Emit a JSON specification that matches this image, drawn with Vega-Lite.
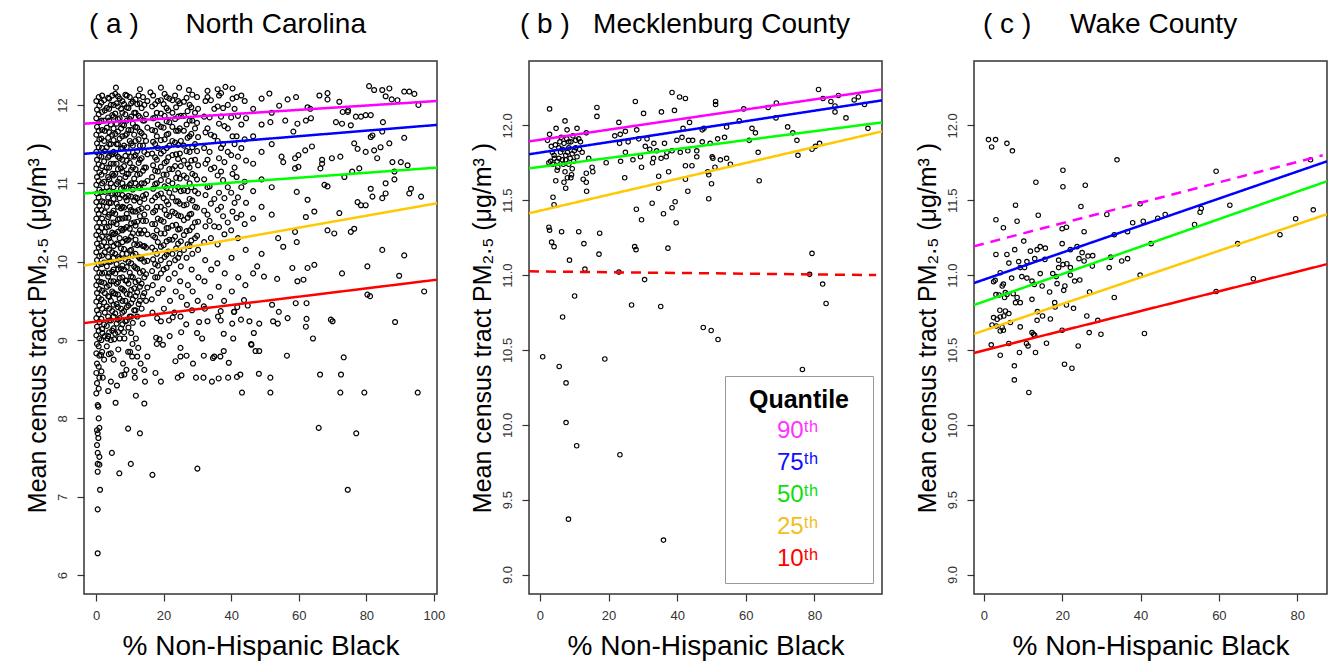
{
"$schema":"https://vega.github.io/schema/vega-lite/v6.json",
"background":"white",
"padding":{"left":24,"top":10,"right":2,"bottom":0},
"config":{
 "font":"Liberation Sans",
 "view":{"stroke":"#333","strokeWidth":1.5},
 "title":{"fontSize":28,"fontWeight":"normal","anchor":"start","frame":"group","offset":22,"color":"black","font":"Liberation Sans"},
 "axis":{"grid":false,"domain":false,"tickSize":7,"tickColor":"#333","tickWidth":1.2,"labelFontSize":13,"labelColor":"#333","labelFlush":false,"labelOverlap":false,"labelBound":false,"titleFontWeight":"normal","titleColor":"black","titleFont":"Liberation Sans","labelFont":"Liberation Sans"},
 "axisX":{"labelPadding":8,"titleFontSize":28,"titlePadding":10},
 "axisY":{"labelAngle":-90,"labelAlign":"center","labelBaseline":"bottom","labelPadding":8,"titleFontSize":25,"titlePadding":6}
},
"datasets":{
"lines":[
{"panel":"a","q":"90th","sig":"yes","x":-3.55,"y":11.76},{"panel":"a","q":"90th","sig":"yes","x":100.9,"y":12.05},
{"panel":"a","q":"75th","sig":"yes","x":-3.55,"y":11.376},{"panel":"a","q":"75th","sig":"yes","x":100.9,"y":11.745},
{"panel":"a","q":"50th","sig":"yes","x":-3.55,"y":10.87},{"panel":"a","q":"50th","sig":"yes","x":100.9,"y":11.2},
{"panel":"a","q":"25th","sig":"yes","x":-3.55,"y":9.95},{"panel":"a","q":"25th","sig":"yes","x":100.9,"y":10.745},
{"panel":"a","q":"10th","sig":"yes","x":-3.55,"y":9.216},{"panel":"a","q":"10th","sig":"yes","x":100.9,"y":9.77},
{"panel":"b","q":"90th","sig":"yes","x":-3.2,"y":11.893},{"panel":"b","q":"90th","sig":"yes","x":99.7,"y":12.24},
{"panel":"b","q":"75th","sig":"yes","x":-3.2,"y":11.807},{"panel":"b","q":"75th","sig":"yes","x":99.7,"y":12.167},
{"panel":"b","q":"50th","sig":"yes","x":-3.2,"y":11.713},{"panel":"b","q":"50th","sig":"yes","x":99.7,"y":12.02},
{"panel":"b","q":"25th","sig":"yes","x":-3.2,"y":11.413},{"panel":"b","q":"25th","sig":"yes","x":99.7,"y":11.96},
{"panel":"b","q":"10th","sig":"no","x":-3.2,"y":11.025},{"panel":"b","q":"10th","sig":"no","x":98,"y":11.0},
{"panel":"c","q":"90th","sig":"no","x":-2.5,"y":11.193},{"panel":"c","q":"90th","sig":"no","x":86.5,"y":11.8},
{"panel":"c","q":"75th","sig":"yes","x":-2.5,"y":10.947},{"panel":"c","q":"75th","sig":"yes","x":87.6,"y":11.76},
{"panel":"c","q":"50th","sig":"yes","x":-2.5,"y":10.8},{"panel":"c","q":"50th","sig":"yes","x":87.6,"y":11.627},
{"panel":"c","q":"25th","sig":"yes","x":-2.5,"y":10.607},{"panel":"c","q":"25th","sig":"yes","x":87.6,"y":11.407},
{"panel":"c","q":"10th","sig":"yes","x":-2.5,"y":10.48},{"panel":"c","q":"10th","sig":"yes","x":87.6,"y":11.073}
],
"meck":[
{"x":2.8,"y":12.11},{"x":16.6,"y":12.12},{"x":16.6,"y":12.06},{"x":7.3,"y":12.03},{"x":4.7,"y":11.98},{"x":7.9,"y":11.97},{"x":10.8,"y":11.98},{"x":13.5,"y":11.95},{"x":23,"y":12.02},{"x":27.8,"y":12.16},{"x":30.2,"y":12.08},{"x":38.5,"y":12.22},{"x":40.7,"y":12.19},{"x":42.4,"y":12.18},{"x":35.4,"y":12.09},{"x":39.2,"y":12.1},{"x":28.2,"y":11.97},{"x":21.8,"y":11.93},{"x":23.4,"y":11.94},{"x":24.9,"y":11.96},{"x":23.2,"y":11.88},{"x":25.7,"y":11.89},{"x":28.8,"y":11.91},{"x":31.2,"y":11.91},{"x":33.2,"y":11.88},{"x":36.3,"y":11.88},{"x":39.9,"y":11.9},{"x":41.4,"y":11.92},{"x":43.3,"y":11.9},{"x":44.5,"y":11.9},{"x":41.7,"y":11.98},{"x":43.6,"y":12.02},{"x":30.7,"y":11.86},{"x":32,"y":11.84},{"x":34,"y":11.83},{"x":37,"y":11.82},{"x":38.5,"y":11.83},{"x":40.9,"y":11.82},{"x":43.1,"y":11.83},{"x":45.7,"y":11.83},{"x":24.9,"y":11.82},{"x":23.5,"y":11.76},{"x":19.3,"y":11.75},{"x":14.2,"y":11.78},{"x":27.1,"y":11.77},{"x":29.3,"y":11.79},{"x":33.1,"y":11.78},{"x":32.8,"y":11.75},{"x":35.3,"y":11.78},{"x":36.8,"y":11.79},{"x":29.6,"y":11.72},{"x":37.5,"y":11.69},{"x":42.4,"y":11.73},{"x":44.3,"y":11.73},{"x":45.7,"y":11.79},{"x":15.2,"y":11.72},{"x":13.5,"y":11.68},{"x":15.4,"y":11.69},{"x":12.6,"y":11.64},{"x":13.5,"y":11.62},{"x":13.6,"y":11.56},{"x":24.7,"y":11.65},{"x":34.6,"y":11.66},{"x":34.6,"y":11.58},{"x":42.4,"y":11.64},{"x":43.1,"y":11.56},{"x":28.1,"y":11.44},{"x":29.6,"y":11.37},{"x":32.7,"y":11.48},{"x":36,"y":11.41},{"x":38.5,"y":11.45},{"x":39.4,"y":11.49},{"x":39.7,"y":11.35},{"x":3.8,"y":11.52},{"x":4.1,"y":11.47},{"x":2.6,"y":11.32},{"x":2.8,"y":11.3},{"x":6.3,"y":11.29},{"x":11.3,"y":11.29},{"x":17.4,"y":11.28},{"x":3.4,"y":11.22},{"x":4.1,"y":11.19},{"x":12.8,"y":11.21},{"x":8.6,"y":11.1},{"x":17.2,"y":11.14},{"x":27.6,"y":11.19},{"x":28,"y":11.17},{"x":37.3,"y":11.18},{"x":13.1,"y":11.04},{"x":23,"y":11.02},{"x":30.5,"y":10.97},{"x":10.1,"y":10.86},
{"x":5.5,"y":11.85},{"x":6,"y":11.82},{"x":6.5,"y":11.84},{"x":7,"y":11.88},{"x":7.5,"y":11.8},{"x":8,"y":11.82},{"x":8.4,"y":11.85},{"x":9,"y":11.89},{"x":9.4,"y":11.81},{"x":10,"y":11.83},{"x":10.4,"y":11.9},{"x":11.3,"y":11.91},{"x":11.8,"y":11.89},{"x":6.5,"y":11.77},{"x":5,"y":11.76},{"x":4.1,"y":11.8},{"x":3.1,"y":11.76},{"x":3.6,"y":11.82},{"x":5.2,"y":11.72},{"x":8.4,"y":11.74},{"x":9.4,"y":11.71},{"x":7.3,"y":11.69},{"x":8,"y":11.65},{"x":7,"y":11.62},{"x":7.5,"y":11.58},{"x":9,"y":11.65},{"x":9.2,"y":11.67},{"x":5,"y":11.7},{"x":4.6,"y":11.63},{"x":10.4,"y":11.85},{"x":5.8,"y":11.89},{"x":8.4,"y":11.89},{"x":7.5,"y":11.77},{"x":2.6,"y":11.75},{"x":2.8,"y":11.94},{"x":2.2,"y":11.9},{"x":4.2,"y":11.78},{"x":3.7,"y":11.74},
{"x":4.5,"y":11.87},{"x":5.5,"y":11.78},{"x":6.8,"y":11.74},{"x":8.8,"y":11.78},{"x":9.8,"y":11.76},{"x":10.8,"y":11.79},{"x":11.5,"y":11.84},{"x":6.2,"y":11.92},{"x":9.6,"y":11.93},{"x":3.3,"y":11.86},{"x":12.3,"y":11.82},{"x":7.8,"y":11.91},
{"x":51.2,"y":12.16},{"x":51.2,"y":12.14},{"x":59.4,"y":12.11},{"x":66.5,"y":12.12},{"x":68.9,"y":12.15},{"x":81.2,"y":12.24},{"x":82.5,"y":12.18},{"x":84.8,"y":12.16},{"x":87,"y":12.2},{"x":86,"y":12.13},{"x":86,"y":12.09},{"x":89.2,"y":12.05},{"x":91.6,"y":12.17},{"x":92.8,"y":12.19},{"x":94.6,"y":12.14},{"x":95.6,"y":11.98},{"x":58.1,"y":12.03},{"x":68.8,"y":12.05},{"x":47.3,"y":11.97},{"x":47.8,"y":11.98},{"x":47.3,"y":11.89},{"x":49.6,"y":11.88},{"x":51.8,"y":11.91},{"x":53.8,"y":11.92},{"x":54.4,"y":11.99},{"x":61.8,"y":11.98},{"x":62.8,"y":11.95},{"x":61,"y":11.9},{"x":72.2,"y":11.99},{"x":73.7,"y":11.95},{"x":74.9,"y":11.9},{"x":50.2,"y":11.79},{"x":50.4,"y":11.78},{"x":52.6,"y":11.77},{"x":54.4,"y":11.78},{"x":55.5,"y":11.74},{"x":51,"y":11.72},{"x":48.9,"y":11.69},{"x":49.2,"y":11.67},{"x":50,"y":11.61},{"x":49.2,"y":11.51},{"x":63.6,"y":11.82},{"x":63.9,"y":11.63},{"x":75.2,"y":11.8},{"x":79.3,"y":11.84},{"x":80.3,"y":11.86},{"x":81.5,"y":11.88},{"x":79.3,"y":11.145},{"x":78.6,"y":11.005},{"x":82.4,"y":10.94},{"x":83.4,"y":10.81},
{"x":6.6,"y":10.72},{"x":26.7,"y":10.8},{"x":35.2,"y":10.79},{"x":47.6,"y":10.65},{"x":49.9,"y":10.63},{"x":51.9,"y":10.57},{"x":0.8,"y":10.455},{"x":5.6,"y":10.39},{"x":7.6,"y":10.28},{"x":7.6,"y":10.015},{"x":10.7,"y":9.86},{"x":18.9,"y":10.44},{"x":23.3,"y":9.8},{"x":8.3,"y":9.37},{"x":36,"y":9.23},{"x":76.5,"y":10.37}
],
"wake":[
{"x":1.2,"y":11.905},{"x":3,"y":11.905},{"x":2,"y":11.856},{"x":5.9,"y":11.88},{"x":7.3,"y":11.83},{"x":34,"y":11.77},{"x":20.2,"y":11.7},{"x":13.3,"y":11.62},{"x":20.2,"y":11.59},{"x":25.9,"y":11.6},{"x":8.1,"y":11.467},{"x":24.8,"y":11.458},{"x":39.9,"y":11.476},{"x":3.1,"y":11.37},{"x":8.5,"y":11.36},{"x":13.9,"y":11.4},{"x":5,"y":11.316},{"x":20,"y":11.31},{"x":21.1,"y":11.32},{"x":25.6,"y":11.29},{"x":31.4,"y":11.405},{"x":38,"y":11.35},{"x":40.7,"y":11.36},{"x":33.3,"y":11.27},{"x":36.7,"y":11.29},{"x":10.2,"y":11.227},{"x":7.9,"y":11.17},{"x":11.9,"y":11.16},{"x":13.6,"y":11.17},{"x":14.4,"y":11.19},{"x":15.7,"y":11.18},{"x":20,"y":11.21},{"x":3.1,"y":11.138},{"x":5.9,"y":11.138},{"x":6.4,"y":11.08},{"x":8.9,"y":11.09},{"x":9.3,"y":11.05},{"x":10.4,"y":11.05},{"x":11,"y":11.09},{"x":13,"y":11.11},{"x":15.6,"y":11.105},{"x":19.1,"y":11.1},{"x":22.1,"y":11.17},{"x":23.8,"y":11.19},{"x":25.1,"y":11.15},{"x":26.6,"y":11.127},{"x":27.8,"y":11.13},{"x":32.4,"y":11.12},{"x":35.2,"y":11.094},{"x":36.7,"y":11.11},{"x":19.1,"y":11.05},{"x":20.2,"y":11.07},{"x":21.2,"y":11.076},{"x":22.1,"y":11.05},{"x":24.3,"y":11.11},{"x":25.6,"y":11.094},{"x":27.7,"y":11.06},{"x":32,"y":11.05},{"x":39.9,"y":11.0},{"x":4.2,"y":11.016},{"x":2.9,"y":10.965},{"x":2.5,"y":10.956},{"x":5,"y":10.94},{"x":4.7,"y":10.927},{"x":7.1,"y":10.98},{"x":9.7,"y":10.99},{"x":11,"y":10.98},{"x":12.3,"y":10.96},{"x":14.4,"y":11.01},{"x":12.9,"y":10.938},{"x":14.9,"y":10.927},{"x":17.6,"y":11.01},{"x":18.7,"y":10.943},{"x":20.7,"y":10.927},{"x":18.5,"y":10.99},{"x":23.2,"y":10.96},{"x":24.5,"y":10.967},{"x":22.1,"y":11.0},{"x":16.8,"y":10.887},{"x":20.4,"y":10.898},{"x":27,"y":10.887},{"x":33.3,"y":10.85},{"x":42.7,"y":11.21},{"x":3.1,"y":10.87},{"x":3.9,"y":10.867},{"x":5.9,"y":10.87},{"x":5.5,"y":10.883},{"x":5.3,"y":10.85},{"x":7.5,"y":10.876},{"x":8.5,"y":10.85},{"x":9.3,"y":10.816},{"x":8.1,"y":10.816},{"x":12.3,"y":10.838},{"x":18.1,"y":10.816},{"x":18.2,"y":10.787},{"x":21.1,"y":10.8},{"x":22.9,"y":10.778},{"x":13.7,"y":10.756},{"x":4.1,"y":10.765},{"x":5.5,"y":10.76},{"x":6.4,"y":10.743},{"x":5.1,"y":10.727},{"x":4.2,"y":10.72},{"x":2.5,"y":10.716},{"x":3.4,"y":10.705},{"x":2.1,"y":10.667},{"x":3.2,"y":10.66},{"x":4.7,"y":10.65},{"x":5,"y":10.632},{"x":4.2,"y":10.627},{"x":6.8,"y":10.683},{"x":9.3,"y":10.654},{"x":13.6,"y":10.698},{"x":15,"y":10.727},{"x":17,"y":10.707},{"x":26.3,"y":10.727},{"x":29.1,"y":10.698},{"x":26.9,"y":10.616},{"x":29.9,"y":10.605},{"x":20,"y":10.632},{"x":12.3,"y":10.616},{"x":12.7,"y":10.605},{"x":13,"y":10.598},{"x":11.3,"y":10.527},{"x":10.9,"y":10.543},{"x":6.4,"y":10.543},{"x":16,"y":10.545},{"x":24.1,"y":10.527},{"x":1.9,"y":10.534},{"x":4.2,"y":10.465},{"x":9.1,"y":10.483},{"x":13.2,"y":10.483},{"x":7.8,"y":10.394},{"x":20.6,"y":10.405},{"x":22.5,"y":10.378},{"x":7.8,"y":10.3},{"x":11.5,"y":10.216},{"x":41,"y":10.61},
{"x":59.3,"y":11.694},{"x":83.4,"y":11.77},{"x":44.4,"y":11.38},{"x":46.3,"y":11.405},{"x":55.5,"y":11.445},{"x":55.2,"y":11.42},{"x":62.8,"y":11.467},{"x":53.8,"y":11.338},{"x":64.8,"y":11.21},{"x":75.6,"y":11.27},{"x":79.6,"y":11.376},{"x":84.1,"y":11.436},{"x":68.8,"y":10.976},{"x":59.3,"y":10.89}
],
"nc":[
{"x":0.1,"y":8.32},{"x":0.3,"y":8.45},{"x":0.1,"y":8.58},{"x":0.3,"y":8.7},{"x":0.1,"y":8.83},{"x":0.3,"y":8.95},{"x":0.1,"y":9.06},{"x":0.3,"y":9.17},{"x":0.1,"y":9.28},{"x":0.3,"y":9.38},{"x":0.1,"y":9.49},{"x":0.3,"y":9.6},{"x":0.1,"y":9.7},{"x":0.3,"y":9.8},{"x":0.1,"y":9.91},{"x":0.3,"y":10.02},{"x":0.1,"y":10.12},{"x":0.3,"y":10.23},{"x":0.1,"y":10.34},{"x":0.3,"y":10.44},{"x":0.1,"y":10.55},{"x":0.3,"y":10.66},{"x":0.1,"y":10.76},{"x":0.3,"y":10.87},{"x":0.1,"y":10.98},{"x":0.3,"y":11.08},{"x":0.1,"y":11.19},{"x":0.3,"y":11.3},{"x":0.1,"y":11.4},{"x":0.3,"y":11.51},{"x":0.1,"y":11.62},{"x":0.3,"y":11.72},{"x":0.1,"y":11.83},{"x":0.3,"y":11.94},{"x":0.1,"y":12.05},
{"x":0.8,"y":8.38},{"x":1.0,"y":8.52},{"x":0.8,"y":8.66},{"x":1.0,"y":8.8},{"x":0.8,"y":8.92},{"x":1.0,"y":9.02},{"x":0.8,"y":9.12},{"x":1.0,"y":9.23},{"x":0.8,"y":9.33},{"x":1.0,"y":9.44},{"x":0.8,"y":9.54},{"x":1.0,"y":9.65},{"x":0.8,"y":9.75},{"x":1.0,"y":9.86},{"x":0.8,"y":9.96},{"x":1.0,"y":10.07},{"x":0.8,"y":10.18},{"x":1.0,"y":10.29},{"x":0.8,"y":10.39},{"x":1.0,"y":10.5},{"x":0.8,"y":10.61},{"x":1.0,"y":10.71},{"x":0.8,"y":10.82},{"x":1.0,"y":10.92},{"x":0.8,"y":11.03},{"x":1.0,"y":11.14},{"x":0.8,"y":11.24},{"x":1.0,"y":11.35},{"x":0.8,"y":11.46},{"x":1.0,"y":11.56},{"x":0.8,"y":11.67},{"x":1.0,"y":11.78},{"x":0.8,"y":11.88},{"x":1.0,"y":11.99},{"x":0.8,"y":12.1},
{"x":1.6,"y":8.6},{"x":1.8,"y":8.85},{"x":1.6,"y":9.0},{"x":1.8,"y":9.14},{"x":1.6,"y":9.27},{"x":1.8,"y":9.4},{"x":1.6,"y":9.52},{"x":1.8,"y":9.63},{"x":1.6,"y":9.74},{"x":1.8,"y":9.85},{"x":1.6,"y":9.97},{"x":1.8,"y":10.08},{"x":1.6,"y":10.2},{"x":1.8,"y":10.32},{"x":1.6,"y":10.43},{"x":1.8,"y":10.55},{"x":1.6,"y":10.66},{"x":1.8,"y":10.77},{"x":1.6,"y":10.89},{"x":1.8,"y":11.0},{"x":1.6,"y":11.11},{"x":1.8,"y":11.22},{"x":1.6,"y":11.34},{"x":1.8,"y":11.45},{"x":1.6,"y":11.57},{"x":1.8,"y":11.68},{"x":1.6,"y":11.8},{"x":1.8,"y":11.91},{"x":1.6,"y":12.03},{"x":1.8,"y":12.12},
{"x":2.4,"y":8.75},{"x":2.6,"y":9.05},{"x":2.4,"y":9.2},{"x":2.6,"y":9.35},{"x":2.4,"y":9.48},{"x":2.6,"y":9.6},{"x":2.4,"y":9.73},{"x":2.6,"y":9.86},{"x":2.4,"y":9.99},{"x":2.6,"y":10.12},{"x":2.4,"y":10.25},{"x":2.6,"y":10.38},{"x":2.4,"y":10.5},{"x":2.6,"y":10.63},{"x":2.4,"y":10.76},{"x":2.6,"y":10.89},{"x":2.4,"y":11.02},{"x":2.6,"y":11.15},{"x":2.4,"y":11.28},{"x":2.6,"y":11.41},{"x":2.4,"y":11.54},{"x":2.6,"y":11.67},{"x":2.4,"y":11.8},{"x":2.6,"y":11.93},{"x":2.4,"y":12.06},
{"x":3.2,"y":8.92},{"x":3.6,"y":9.05},{"x":3.2,"y":9.18},{"x":3.6,"y":9.3},{"x":3.2,"y":9.43},{"x":3.6,"y":9.56},{"x":3.2,"y":9.68},{"x":3.6,"y":9.81},{"x":3.2,"y":9.94},{"x":3.6,"y":10.06},{"x":3.2,"y":10.19},{"x":3.6,"y":10.32},{"x":3.2,"y":10.44},{"x":3.6,"y":10.57},{"x":3.2,"y":10.7},{"x":3.6,"y":10.82},{"x":3.2,"y":10.95},{"x":3.6,"y":11.08},{"x":3.2,"y":11.2},{"x":3.6,"y":11.33},{"x":3.2,"y":11.46},{"x":3.6,"y":11.58},{"x":3.2,"y":11.71},{"x":3.6,"y":11.84},{"x":3.2,"y":11.96},{"x":3.6,"y":12.09},
{"x":4.4,"y":9.0},{"x":4.8,"y":9.12},{"x":4.4,"y":9.25},{"x":4.8,"y":9.37},{"x":4.4,"y":9.5},{"x":4.8,"y":9.62},{"x":4.4,"y":9.75},{"x":4.8,"y":9.87},{"x":4.4,"y":10.0},{"x":4.8,"y":10.12},{"x":4.4,"y":10.25},{"x":4.8,"y":10.37},{"x":4.4,"y":10.5},{"x":4.8,"y":10.62},{"x":4.4,"y":10.75},{"x":4.8,"y":10.87},{"x":4.4,"y":11.0},{"x":4.8,"y":11.12},{"x":4.4,"y":11.25},{"x":4.8,"y":11.37},{"x":4.4,"y":11.5},{"x":4.8,"y":11.62},{"x":4.4,"y":11.75},{"x":4.8,"y":11.87},{"x":4.4,"y":12.0},{"x":4.8,"y":12.12},
{"x":5.7,"y":9.08},{"x":6.1,"y":9.21},{"x":5.7,"y":9.34},{"x":6.1,"y":9.46},{"x":5.7,"y":9.59},{"x":6.1,"y":9.72},{"x":5.7,"y":9.85},{"x":6.1,"y":9.97},{"x":5.7,"y":10.1},{"x":6.1,"y":10.23},{"x":5.7,"y":10.36},{"x":6.1,"y":10.48},{"x":5.7,"y":10.61},{"x":6.1,"y":10.74},{"x":5.7,"y":10.87},{"x":6.1,"y":10.99},{"x":5.7,"y":11.12},{"x":6.1,"y":11.25},{"x":5.7,"y":11.38},{"x":6.1,"y":11.5},{"x":5.7,"y":11.63},{"x":6.1,"y":11.76},{"x":5.7,"y":11.89},{"x":6.1,"y":12.02},{"x":5.7,"y":12.14},
{"x":7.0,"y":9.02},{"x":7.4,"y":9.15},{"x":7.0,"y":9.28},{"x":7.4,"y":9.4},{"x":7.0,"y":9.53},{"x":7.4,"y":9.66},{"x":7.0,"y":9.79},{"x":7.4,"y":9.91},{"x":7.0,"y":10.04},{"x":7.4,"y":10.17},{"x":7.0,"y":10.3},{"x":7.4,"y":10.42},{"x":7.0,"y":10.55},{"x":7.4,"y":10.68},{"x":7.0,"y":10.81},{"x":7.4,"y":10.93},{"x":7.0,"y":11.06},{"x":7.4,"y":11.19},{"x":7.0,"y":11.32},{"x":7.4,"y":11.44},{"x":7.0,"y":11.57},{"x":7.4,"y":11.7},{"x":7.0,"y":11.83},{"x":7.4,"y":11.95},{"x":7.0,"y":12.08},
{"x":8.3,"y":9.1},{"x":8.7,"y":9.24},{"x":8.3,"y":9.37},{"x":8.7,"y":9.5},{"x":8.3,"y":9.63},{"x":8.7,"y":9.76},{"x":8.3,"y":9.9},{"x":8.7,"y":10.03},{"x":8.3,"y":10.16},{"x":8.7,"y":10.29},{"x":8.3,"y":10.42},{"x":8.7,"y":10.56},{"x":8.3,"y":10.69},{"x":8.7,"y":10.82},{"x":8.3,"y":10.95},{"x":8.7,"y":11.08},{"x":8.3,"y":11.22},{"x":8.7,"y":11.35},{"x":8.3,"y":11.48},{"x":8.7,"y":11.61},{"x":8.3,"y":11.74},{"x":8.7,"y":11.88},{"x":8.3,"y":12.01},{"x":8.7,"y":12.13},
{"x":9.6,"y":9.16},{"x":10.0,"y":9.3},{"x":9.6,"y":9.44},{"x":10.0,"y":9.58},{"x":9.6,"y":9.72},{"x":10.0,"y":9.86},{"x":9.6,"y":10.0},{"x":10.0,"y":10.14},{"x":9.6,"y":10.28},{"x":10.0,"y":10.42},{"x":9.6,"y":10.56},{"x":10.0,"y":10.7},{"x":9.6,"y":10.84},{"x":10.0,"y":10.98},{"x":9.6,"y":11.12},{"x":10.0,"y":11.26},{"x":9.6,"y":11.4},{"x":10.0,"y":11.54},{"x":9.6,"y":11.68},{"x":10.0,"y":11.82},{"x":9.6,"y":11.96},{"x":10.0,"y":12.1},
{"x":10.9,"y":9.22},{"x":11.3,"y":9.38},{"x":10.9,"y":9.52},{"x":11.3,"y":9.66},{"x":10.9,"y":9.8},{"x":11.3,"y":9.94},{"x":10.9,"y":10.08},{"x":11.3,"y":10.22},{"x":10.9,"y":10.36},{"x":11.3,"y":10.5},{"x":10.9,"y":10.64},{"x":11.3,"y":10.78},{"x":10.9,"y":10.92},{"x":11.3,"y":11.06},{"x":10.9,"y":11.2},{"x":11.3,"y":11.34},{"x":10.9,"y":11.48},{"x":11.3,"y":11.62},{"x":10.9,"y":11.76},{"x":11.3,"y":11.9},{"x":10.9,"y":12.04},
{"x":12.2,"y":9.3},{"x":12.6,"y":9.46},{"x":12.2,"y":9.61},{"x":12.6,"y":9.76},{"x":12.2,"y":9.91},{"x":12.6,"y":10.06},{"x":12.2,"y":10.21},{"x":12.6,"y":10.36},{"x":12.2,"y":10.51},{"x":12.6,"y":10.66},{"x":12.2,"y":10.81},{"x":12.6,"y":10.96},{"x":12.2,"y":11.11},{"x":12.6,"y":11.26},{"x":12.2,"y":11.41},{"x":12.6,"y":11.56},{"x":12.2,"y":11.71},{"x":12.6,"y":11.86},{"x":12.2,"y":12.01},{"x":12.6,"y":12.12},
{"x":13.5,"y":9.4},{"x":13.9,"y":9.56},{"x":13.5,"y":9.72},{"x":13.9,"y":9.88},{"x":13.5,"y":10.04},{"x":13.9,"y":10.2},{"x":13.5,"y":10.36},{"x":13.9,"y":10.52},{"x":13.5,"y":10.68},{"x":13.9,"y":10.84},{"x":13.5,"y":11.0},{"x":13.9,"y":11.16},{"x":13.5,"y":11.32},{"x":13.9,"y":11.48},{"x":13.5,"y":11.64},{"x":13.9,"y":11.8},{"x":13.5,"y":11.96},{"x":13.9,"y":12.1},
{"x":14.8,"y":9.5},{"x":15.2,"y":9.67},{"x":14.8,"y":9.84},{"x":15.2,"y":10.01},{"x":14.8,"y":10.18},{"x":15.2,"y":10.35},{"x":14.8,"y":10.52},{"x":15.2,"y":10.69},{"x":14.8,"y":10.86},{"x":15.2,"y":11.03},{"x":14.8,"y":11.2},{"x":15.2,"y":11.37},{"x":14.8,"y":11.54},{"x":15.2,"y":11.71},{"x":14.8,"y":11.88},{"x":15.2,"y":12.05},
{"x":3.9,"y":9.1},{"x":3.9,"y":9.25},{"x":3.9,"y":9.4},{"x":3.9,"y":9.55},{"x":3.9,"y":9.7},{"x":3.9,"y":9.85},{"x":3.9,"y":10.0},{"x":3.9,"y":10.15},{"x":3.9,"y":10.3},{"x":3.9,"y":10.45},{"x":3.9,"y":10.6},{"x":3.9,"y":10.75},{"x":3.9,"y":10.9},{"x":3.9,"y":11.05},{"x":3.9,"y":11.2},{"x":3.9,"y":11.35},{"x":3.9,"y":11.5},{"x":3.9,"y":11.65},{"x":3.9,"y":11.8},{"x":3.9,"y":11.95},{"x":3.9,"y":12.08},
{"x":5.2,"y":9.15},{"x":5.2,"y":9.3},{"x":5.2,"y":9.45},{"x":5.2,"y":9.6},{"x":5.2,"y":9.75},{"x":5.2,"y":9.9},{"x":5.2,"y":10.05},{"x":5.2,"y":10.2},{"x":5.2,"y":10.35},{"x":5.2,"y":10.5},{"x":5.2,"y":10.65},{"x":5.2,"y":10.8},{"x":5.2,"y":10.95},{"x":5.2,"y":11.1},{"x":5.2,"y":11.25},{"x":5.2,"y":11.4},{"x":5.2,"y":11.55},{"x":5.2,"y":11.7},{"x":5.2,"y":11.85},{"x":5.2,"y":12.0},
{"x":6.5,"y":9.1},{"x":6.5,"y":9.26},{"x":6.5,"y":9.42},{"x":6.5,"y":9.58},{"x":6.5,"y":9.74},{"x":6.5,"y":9.9},{"x":6.5,"y":10.06},{"x":6.5,"y":10.22},{"x":6.5,"y":10.38},{"x":6.5,"y":10.54},{"x":6.5,"y":10.7},{"x":6.5,"y":10.86},{"x":6.5,"y":11.02},{"x":6.5,"y":11.18},{"x":6.5,"y":11.34},{"x":6.5,"y":11.5},{"x":6.5,"y":11.66},{"x":6.5,"y":11.82},{"x":6.5,"y":11.98},{"x":6.5,"y":12.11},
{"x":7.8,"y":9.2},{"x":7.8,"y":9.35},{"x":7.8,"y":9.5},{"x":7.8,"y":9.65},{"x":7.8,"y":9.8},{"x":7.8,"y":9.95},{"x":7.8,"y":10.1},{"x":7.8,"y":10.25},{"x":7.8,"y":10.4},{"x":7.8,"y":10.55},{"x":7.8,"y":10.7},{"x":7.8,"y":10.85},{"x":7.8,"y":11.0},{"x":7.8,"y":11.15},{"x":7.8,"y":11.3},{"x":7.8,"y":11.45},{"x":7.8,"y":11.6},{"x":7.8,"y":11.75},{"x":7.8,"y":11.9},{"x":7.8,"y":12.05},
{"x":9.1,"y":9.25},{"x":9.1,"y":9.42},{"x":9.1,"y":9.59},{"x":9.1,"y":9.76},{"x":9.1,"y":9.93},{"x":9.1,"y":10.1},{"x":9.1,"y":10.27},{"x":9.1,"y":10.44},{"x":9.1,"y":10.61},{"x":9.1,"y":10.78},{"x":9.1,"y":10.95},{"x":9.1,"y":11.12},{"x":9.1,"y":11.29},{"x":9.1,"y":11.46},{"x":9.1,"y":11.63},{"x":9.1,"y":11.8},{"x":9.1,"y":11.97},{"x":9.1,"y":12.12},
{"x":10.4,"y":9.3},{"x":10.4,"y":9.47},{"x":10.4,"y":9.64},{"x":10.4,"y":9.81},{"x":10.4,"y":9.98},{"x":10.4,"y":10.15},{"x":10.4,"y":10.32},{"x":10.4,"y":10.49},{"x":10.4,"y":10.66},{"x":10.4,"y":10.83},{"x":10.4,"y":11.0},{"x":10.4,"y":11.17},{"x":10.4,"y":11.34},{"x":10.4,"y":11.51},{"x":10.4,"y":11.68},{"x":10.4,"y":11.85},{"x":10.4,"y":12.02},
{"x":11.7,"y":9.38},{"x":11.7,"y":9.56},{"x":11.7,"y":9.74},{"x":11.7,"y":9.92},{"x":11.7,"y":10.1},{"x":11.7,"y":10.28},{"x":11.7,"y":10.46},{"x":11.7,"y":10.64},{"x":11.7,"y":10.82},{"x":11.7,"y":11.0},{"x":11.7,"y":11.18},{"x":11.7,"y":11.36},{"x":11.7,"y":11.54},{"x":11.7,"y":11.72},{"x":11.7,"y":11.9},{"x":11.7,"y":12.07},
{"x":13.0,"y":9.5},{"x":13.0,"y":9.68},{"x":13.0,"y":9.86},{"x":13.0,"y":10.04},{"x":13.0,"y":10.22},{"x":13.0,"y":10.4},{"x":13.0,"y":10.58},{"x":13.0,"y":10.76},{"x":13.0,"y":10.94},{"x":13.0,"y":11.12},{"x":13.0,"y":11.3},{"x":13.0,"y":11.48},{"x":13.0,"y":11.66},{"x":13.0,"y":11.84},{"x":13.0,"y":12.02},
{"x":14.3,"y":9.6},{"x":14.3,"y":9.8},{"x":14.3,"y":10.0},{"x":14.3,"y":10.2},{"x":14.3,"y":10.4},{"x":14.3,"y":10.6},{"x":14.3,"y":10.8},{"x":14.3,"y":11.0},{"x":14.3,"y":11.2},{"x":14.3,"y":11.4},{"x":14.3,"y":11.6},{"x":14.3,"y":11.8},{"x":14.3,"y":12.0},
{"x":16.6,"y":9.88},{"x":16.9,"y":10.03},{"x":16.6,"y":10.18},{"x":16.9,"y":10.33},{"x":16.6,"y":10.48},{"x":16.9,"y":10.63},{"x":16.6,"y":10.78},{"x":16.9,"y":10.93},{"x":16.6,"y":11.08},{"x":16.9,"y":11.23},{"x":16.6,"y":11.38},{"x":16.9,"y":11.53},{"x":16.6,"y":11.68},{"x":16.9,"y":11.83},{"x":16.6,"y":11.98},{"x":16.9,"y":12.12},{"x":16.7,"y":9.35},{"x":16.5,"y":9.52},{"x":16.8,"y":9.7},
{"x":18.3,"y":9.95},{"x":18.0,"y":10.1},{"x":18.3,"y":10.25},{"x":18.0,"y":10.4},{"x":18.3,"y":10.55},{"x":18.0,"y":10.7},{"x":18.3,"y":10.85},{"x":18.0,"y":11.0},{"x":18.3,"y":11.15},{"x":18.0,"y":11.3},{"x":18.3,"y":11.45},{"x":18.0,"y":11.6},{"x":18.3,"y":11.75},{"x":18.0,"y":11.9},{"x":18.3,"y":12.05},{"x":18.1,"y":9.28},{"x":18.4,"y":9.6},{"x":18.2,"y":9.8},{"x":18.0,"y":8.95},
{"x":20.0,"y":9.9},{"x":20.3,"y":10.06},{"x":20.0,"y":10.21},{"x":20.3,"y":10.36},{"x":20.0,"y":10.51},{"x":20.3,"y":10.66},{"x":20.0,"y":10.81},{"x":20.3,"y":10.96},{"x":20.0,"y":11.11},{"x":20.3,"y":11.26},{"x":20.0,"y":11.41},{"x":20.3,"y":11.56},{"x":20.0,"y":11.71},{"x":20.3,"y":11.86},{"x":20.0,"y":12.01},{"x":20.3,"y":12.14},{"x":20.1,"y":9.4},{"x":19.8,"y":9.65},
{"x":21.7,"y":9.98},{"x":21.4,"y":10.13},{"x":21.7,"y":10.28},{"x":21.4,"y":10.43},{"x":21.7,"y":10.58},{"x":21.4,"y":10.73},{"x":21.7,"y":10.88},{"x":21.4,"y":11.03},{"x":21.7,"y":11.18},{"x":21.4,"y":11.33},{"x":21.7,"y":11.48},{"x":21.4,"y":11.63},{"x":21.7,"y":11.78},{"x":21.4,"y":11.93},{"x":21.7,"y":12.08},{"x":21.6,"y":9.25},{"x":21.9,"y":9.5},{"x":21.5,"y":9.78},{"x":21.8,"y":9.05},
{"x":23.4,"y":10.02},{"x":23.7,"y":10.17},{"x":23.4,"y":10.32},{"x":23.7,"y":10.47},{"x":23.4,"y":10.62},{"x":23.7,"y":10.77},{"x":23.4,"y":10.92},{"x":23.7,"y":11.07},{"x":23.4,"y":11.22},{"x":23.7,"y":11.37},{"x":23.4,"y":11.52},{"x":23.7,"y":11.67},{"x":23.4,"y":11.82},{"x":23.7,"y":11.97},{"x":23.4,"y":12.12},{"x":23.2,"y":9.35},{"x":23.6,"y":9.62},{"x":23.3,"y":9.85},
{"x":25.1,"y":9.94},{"x":24.8,"y":10.1},{"x":25.1,"y":10.26},{"x":24.8,"y":10.42},{"x":25.1,"y":10.58},{"x":24.8,"y":10.74},{"x":25.1,"y":10.9},{"x":24.8,"y":11.06},{"x":25.1,"y":11.22},{"x":24.8,"y":11.38},{"x":25.1,"y":11.54},{"x":24.8,"y":11.7},{"x":25.1,"y":11.86},{"x":24.8,"y":12.02},{"x":25.0,"y":9.3},{"x":25.3,"y":9.55},{"x":24.9,"y":9.75},{"x":25.2,"y":9.1},
{"x":26.8,"y":10.05},{"x":27.1,"y":10.22},{"x":26.8,"y":10.39},{"x":27.1,"y":10.56},{"x":26.8,"y":10.73},{"x":27.1,"y":10.9},{"x":26.8,"y":11.07},{"x":27.1,"y":11.24},{"x":26.8,"y":11.41},{"x":27.1,"y":11.58},{"x":26.8,"y":11.75},{"x":27.1,"y":11.92},{"x":26.8,"y":12.09},{"x":26.9,"y":9.45},{"x":27.2,"y":9.7},{"x":26.7,"y":9.2},
{"x":28.5,"y":10.1},{"x":28.2,"y":10.27},{"x":28.5,"y":10.44},{"x":28.2,"y":10.61},{"x":28.5,"y":10.78},{"x":28.2,"y":10.95},{"x":28.5,"y":11.12},{"x":28.2,"y":11.29},{"x":28.5,"y":11.46},{"x":28.2,"y":11.63},{"x":28.5,"y":11.8},{"x":28.2,"y":11.97},{"x":28.5,"y":12.13},{"x":28.4,"y":9.38},{"x":28.6,"y":9.62},{"x":28.3,"y":9.9},
{"x":30.2,"y":10.15},{"x":29.9,"y":10.33},{"x":30.2,"y":10.51},{"x":29.9,"y":10.69},{"x":30.2,"y":10.87},{"x":29.9,"y":11.05},{"x":30.2,"y":11.23},{"x":29.9,"y":11.41},{"x":30.2,"y":11.59},{"x":29.9,"y":11.77},{"x":30.2,"y":11.95},{"x":29.9,"y":12.1},{"x":30.1,"y":9.5},{"x":30.3,"y":9.8},
{"x":17.5,"y":9.8},{"x":17.5,"y":9.97},{"x":17.5,"y":10.14},{"x":17.5,"y":10.31},{"x":17.5,"y":10.48},{"x":17.5,"y":10.65},{"x":17.5,"y":10.82},{"x":17.5,"y":10.99},{"x":17.5,"y":11.16},{"x":17.5,"y":11.33},{"x":17.5,"y":11.5},{"x":17.5,"y":11.67},{"x":17.5,"y":11.84},{"x":17.5,"y":12.01},
{"x":19.2,"y":9.85},{"x":19.2,"y":10.02},{"x":19.2,"y":10.19},{"x":19.2,"y":10.36},{"x":19.2,"y":10.53},{"x":19.2,"y":10.7},{"x":19.2,"y":10.87},{"x":19.2,"y":11.04},{"x":19.2,"y":11.21},{"x":19.2,"y":11.38},{"x":19.2,"y":11.55},{"x":19.2,"y":11.72},{"x":19.2,"y":11.89},{"x":19.2,"y":12.06},
{"x":20.9,"y":9.92},{"x":20.9,"y":10.09},{"x":20.9,"y":10.26},{"x":20.9,"y":10.43},{"x":20.9,"y":10.6},{"x":20.9,"y":10.77},{"x":20.9,"y":10.94},{"x":20.9,"y":11.11},{"x":20.9,"y":11.28},{"x":20.9,"y":11.45},{"x":20.9,"y":11.62},{"x":20.9,"y":11.79},{"x":20.9,"y":11.96},{"x":20.9,"y":12.1},
{"x":22.6,"y":10.1},{"x":22.6,"y":10.28},{"x":22.6,"y":10.46},{"x":22.6,"y":10.64},{"x":22.6,"y":10.82},{"x":22.6,"y":11.0},{"x":22.6,"y":11.18},{"x":22.6,"y":11.36},{"x":22.6,"y":11.54},{"x":22.6,"y":11.72},{"x":22.6,"y":11.9},{"x":22.6,"y":12.06},
{"x":24.3,"y":10.05},{"x":24.3,"y":10.23},{"x":24.3,"y":10.41},{"x":24.3,"y":10.59},{"x":24.3,"y":10.77},{"x":24.3,"y":10.95},{"x":24.3,"y":11.13},{"x":24.3,"y":11.31},{"x":24.3,"y":11.49},{"x":24.3,"y":11.67},{"x":24.3,"y":11.85},{"x":24.3,"y":12.05},
{"x":26.0,"y":10.15},{"x":26.0,"y":10.34},{"x":26.0,"y":10.53},{"x":26.0,"y":10.72},{"x":26.0,"y":10.91},{"x":26.0,"y":11.1},{"x":26.0,"y":11.29},{"x":26.0,"y":11.48},{"x":26.0,"y":11.67},{"x":26.0,"y":11.86},{"x":26.0,"y":12.04},
{"x":27.7,"y":10.2},{"x":27.7,"y":10.4},{"x":27.7,"y":10.6},{"x":27.7,"y":10.8},{"x":27.7,"y":11.0},{"x":27.7,"y":11.2},{"x":27.7,"y":11.4},{"x":27.7,"y":11.6},{"x":27.7,"y":11.8},{"x":27.7,"y":12.0},
{"x":29.3,"y":10.3},{"x":29.3,"y":10.5},{"x":29.3,"y":10.7},{"x":29.3,"y":10.9},{"x":29.3,"y":11.1},{"x":29.3,"y":11.3},{"x":29.3,"y":11.5},{"x":29.3,"y":11.7},{"x":29.3,"y":11.9},
{"x":32.0,"y":10.25},{"x":32.4,"y":10.45},{"x":32.0,"y":10.65},{"x":32.4,"y":10.85},{"x":32.0,"y":11.05},{"x":32.4,"y":11.25},{"x":32.0,"y":11.45},{"x":32.4,"y":11.65},{"x":32.0,"y":11.85},{"x":32.4,"y":12.05},{"x":32.2,"y":9.4},{"x":32.1,"y":9.75},{"x":32.3,"y":10.02},
{"x":34.0,"y":10.3},{"x":33.6,"y":10.52},{"x":34.0,"y":10.74},{"x":33.6,"y":10.96},{"x":34.0,"y":11.18},{"x":33.6,"y":11.4},{"x":34.0,"y":11.62},{"x":33.6,"y":11.84},{"x":34.0,"y":12.06},{"x":33.8,"y":9.55},{"x":34.1,"y":9.9},
{"x":36.0,"y":10.22},{"x":36.4,"y":10.44},{"x":36.0,"y":10.66},{"x":36.4,"y":10.88},{"x":36.0,"y":11.1},{"x":36.4,"y":11.32},{"x":36.0,"y":11.54},{"x":36.4,"y":11.76},{"x":36.0,"y":11.98},{"x":36.4,"y":12.12},{"x":36.1,"y":9.3},{"x":36.3,"y":9.68},{"x":35.9,"y":9.98},
{"x":38.0,"y":10.35},{"x":37.6,"y":10.58},{"x":38.0,"y":10.81},{"x":37.6,"y":11.04},{"x":38.0,"y":11.27},{"x":37.6,"y":11.5},{"x":38.0,"y":11.73},{"x":37.6,"y":11.96},{"x":37.9,"y":9.5},{"x":38.1,"y":9.85},
{"x":40.0,"y":10.4},{"x":40.4,"y":10.64},{"x":40.0,"y":10.88},{"x":40.4,"y":11.12},{"x":40.0,"y":11.36},{"x":40.4,"y":11.6},{"x":40.0,"y":11.84},{"x":40.4,"y":12.08},{"x":40.2,"y":9.62},{"x":40.1,"y":10.05},
{"x":42.0,"y":10.3},{"x":41.6,"y":10.56},{"x":42.0,"y":10.82},{"x":41.6,"y":11.08},{"x":42.0,"y":11.34},{"x":41.6,"y":11.6},{"x":42.0,"y":11.86},{"x":41.6,"y":12.1},{"x":41.8,"y":9.42},{"x":42.1,"y":9.8},
{"x":44.0,"y":10.48},{"x":44.4,"y":10.75},{"x":44.0,"y":11.02},{"x":44.4,"y":11.29},{"x":44.0,"y":11.56},{"x":44.4,"y":11.83},{"x":44.0,"y":12.05},{"x":44.2,"y":9.7},{"x":44.3,"y":10.15},
{"x":33,"y":10.6},{"x":33,"y":10.95},{"x":33,"y":11.3},{"x":33,"y":11.7},{"x":33,"y":12.1},{"x":35,"y":10.45},{"x":35,"y":10.8},{"x":35,"y":11.2},{"x":35,"y":11.6},{"x":35,"y":11.95},{"x":37,"y":10.7},{"x":37,"y":11.15},{"x":37,"y":11.45},{"x":37,"y":11.85},{"x":37,"y":12.15},{"x":39,"y":10.5},{"x":39,"y":10.95},{"x":39,"y":11.4},{"x":39,"y":11.7},{"x":39,"y":12.0},{"x":41,"y":10.75},{"x":41,"y":11.2},{"x":41,"y":11.5},{"x":41,"y":11.95},{"x":43,"y":10.6},{"x":43,"y":10.95},{"x":43,"y":11.45},{"x":43,"y":11.75},{"x":43,"y":12.12},
{"x":46.5,"y":10.55},{"x":46.5,"y":10.9},{"x":46.5,"y":11.25},{"x":46.5,"y":11.6},{"x":46.5,"y":11.95},{"x":46.5,"y":9.85},{"x":49,"y":10.7},{"x":49,"y":11.05},{"x":49,"y":11.4},{"x":49,"y":11.75},{"x":49,"y":12.08},{"x":49,"y":10.1},{"x":52,"y":10.6},{"x":52,"y":10.95},{"x":52,"y":11.5},{"x":52,"y":11.9},
{"x":5.9,"y":12.22},{"x":16.1,"y":12.16},{"x":19.2,"y":12.22},{"x":24.6,"y":12.22},{"x":33,"y":12.18},{"x":36,"y":12.2},{"x":38.3,"y":12.23},{"x":40.4,"y":12.21},{"x":13,"y":12.2},{"x":27.5,"y":12.19},
{"x":51.3,"y":12.145},{"x":54.2,"y":11.99},{"x":56.7,"y":12.07},{"x":59.2,"y":12.1},{"x":66.1,"y":12.12},{"x":68.5,"y":12.15},{"x":68.5,"y":12.07},{"x":72,"y":12.04},{"x":74.6,"y":11.93},{"x":80.8,"y":12.24},{"x":82.3,"y":12.19},{"x":84.7,"y":12.19},{"x":86.8,"y":12.21},{"x":85.7,"y":12.11},{"x":87.5,"y":12.07},{"x":89.2,"y":12.06},{"x":91.2,"y":12.17},{"x":92.7,"y":12.17},{"x":94.2,"y":12.14},{"x":95.4,"y":12.0},{"x":73,"y":11.91},{"x":74.5,"y":11.91},{"x":62.6,"y":11.97},{"x":63.4,"y":11.95},{"x":81.3,"y":11.87},{"x":79.8,"y":11.87},{"x":78.4,"y":11.85},{"x":76.9,"y":11.85},{"x":84.9,"y":11.78},{"x":75.4,"y":11.74},{"x":72.8,"y":11.76},{"x":71,"y":11.78},{"x":63.6,"y":11.83},{"x":59.6,"y":11.76},{"x":62.1,"y":11.8},{"x":51.6,"y":11.78},{"x":56,"y":11.8},{"x":58.4,"y":11.66},{"x":84.7,"y":11.66},{"x":91.2,"y":11.58},{"x":86.8,"y":11.51},{"x":81.3,"y":11.59},{"x":81.8,"y":11.61},{"x":77.4,"y":11.44},{"x":76.4,"y":11.51},{"x":79.8,"y":11.4},{"x":82.3,"y":11.42},{"x":84.2,"y":11.46},{"x":83.2,"y":11.32},{"x":92.2,"y":11.23},{"x":90.2,"y":11.27},{"x":87.7,"y":11.27},{"x":72.3,"y":11.34},{"x":69.8,"y":11.32},{"x":66.9,"y":11.3},{"x":66.4,"y":11.19},{"x":66.9,"y":11.25},{"x":61.9,"y":11.42},{"x":59.9,"y":11.36},{"x":63.9,"y":11.47},{"x":58.9,"y":11.32},{"x":54.9,"y":11.34},{"x":55.4,"y":11.27},{"x":59.9,"y":11.21},{"x":58.9,"y":11.19},{"x":75.8,"y":11.15},{"x":77.9,"y":11.19},{"x":73.5,"y":11.08},{"x":88.3,"y":11.05},{"x":85.7,"y":11.0},{"x":88.3,"y":11.15},{"x":81.3,"y":10.93},{"x":81.8,"y":10.83},{"x":84.7,"y":10.81},{"x":85.7,"y":10.87},{"x":93.2,"y":10.93},{"x":92.7,"y":10.87},{"x":96.2,"y":10.83},{"x":77.4,"y":10.76},{"x":78.4,"y":10.72},{"x":79.8,"y":10.72},{"x":68.5,"y":10.96},{"x":67.6,"y":10.98},{"x":59.4,"y":10.89},{"x":62.6,"y":10.79},{"x":62.1,"y":10.57},{"x":64.6,"y":10.64},{"x":72,"y":10.62},{"x":76.4,"y":10.42},{"x":75.4,"y":10.38},{"x":68.5,"y":10.4},{"x":70.5,"y":10.36},{"x":58.9,"y":10.38},{"x":59.4,"y":10.25},{"x":53.9,"y":10.3},{"x":55.4,"y":10.19},{"x":84.7,"y":10.15},{"x":91.2,"y":10.08},{"x":80.3,"y":9.94},{"x":72.8,"y":9.85},{"x":64.6,"y":9.96},{"x":62.6,"y":9.92},{"x":58.1,"y":9.92},{"x":61.4,"y":9.77},{"x":59.6,"y":9.75},{"x":53.6,"y":9.78},{"x":49.7,"y":9.81},{"x":47.7,"y":9.94},{"x":89.7,"y":9.82},{"x":97.1,"y":9.62},{"x":80.3,"y":9.58},{"x":81.1,"y":9.56},{"x":62.3,"y":9.47},{"x":59.1,"y":9.47},{"x":43.8,"y":9.51},{"x":52.1,"y":9.45},{"x":54.1,"y":9.36},{"x":69.5,"y":9.26},{"x":62.3,"y":9.27},{"x":40.8,"y":9.36},
{"x":56.7,"y":9.28},{"x":70,"y":9.24},{"x":88.5,"y":9.23},{"x":62.1,"y":9.17},{"x":64.2,"y":9.02},{"x":56.5,"y":8.8},{"x":73.3,"y":8.78},{"x":66.3,"y":8.56},{"x":72.5,"y":8.56},{"x":51.6,"y":8.52},{"x":48.2,"y":8.57},{"x":43.2,"y":8.33},{"x":51.6,"y":8.33},{"x":72.3,"y":8.33},{"x":79.4,"y":8.33},{"x":95.2,"y":8.33},{"x":65.9,"y":7.88},{"x":77,"y":7.81},{"x":74.5,"y":7.09},{"x":30,"y":7.36},{"x":16.7,"y":7.28},{"x":6.9,"y":7.3},{"x":10.3,"y":7.42},{"x":13,"y":7.81},{"x":9.5,"y":7.87},{"x":4.7,"y":7.56},{"x":1.2,"y":7.09},{"x":0.5,"y":6.84},{"x":0.5,"y":6.28},{"x":0.8,"y":8.0},{"x":0.3,"y":7.85},{"x":1.0,"y":7.88},{"x":0.5,"y":7.81},{"x":0.7,"y":7.75},{"x":0.3,"y":7.66},{"x":0.5,"y":7.56},{"x":1.0,"y":7.51},{"x":0.5,"y":7.42},{"x":1.0,"y":7.41},{"x":0.5,"y":7.32},{"x":0.5,"y":8.17},{"x":0.7,"y":8.15},{"x":11.8,"y":8.29},{"x":14.3,"y":8.19},
{"x":2,"y":8.52},{"x":4.4,"y":8.47},{"x":8.4,"y":8.56},{"x":11.5,"y":8.52},{"x":14.5,"y":8.47},{"x":17.6,"y":8.58},{"x":19.2,"y":8.47},{"x":24.2,"y":8.52},{"x":25.3,"y":8.55},{"x":29.6,"y":8.52},{"x":31.8,"y":8.52},{"x":34.3,"y":8.47},{"x":36.3,"y":8.51},{"x":39.1,"y":8.52},{"x":41.7,"y":8.53},{"x":42.7,"y":8.56},
{"x":1.5,"y":8.81},{"x":4.4,"y":8.83},{"x":10.1,"y":8.85},{"x":10.7,"y":8.79},{"x":12.2,"y":8.79},{"x":15.2,"y":8.79},{"x":23.5,"y":8.73},{"x":25,"y":8.79},{"x":26.8,"y":8.8},{"x":28.7,"y":8.7},{"x":31.9,"y":8.8},{"x":34.6,"y":8.77},{"x":35,"y":8.79},{"x":36.8,"y":8.79},{"x":37.8,"y":8.86},{"x":39.3,"y":8.71},{"x":46,"y":8.94},{"x":47.2,"y":8.86},{"x":48.3,"y":8.86},
{"x":3.4,"y":9.02},{"x":1.9,"y":9.09},{"x":5.4,"y":9.01},{"x":8.4,"y":9.02},{"x":10.4,"y":9.09},{"x":11.8,"y":9.02},{"x":17.8,"y":9.03},{"x":18.8,"y":9.01},{"x":19.8,"y":8.94},{"x":25,"y":8.9},{"x":29.9,"y":9.09},{"x":31.4,"y":9.02},{"x":37.8,"y":9.08},{"x":40.6,"y":9.02},{"x":45.9,"y":8.95},{"x":46.7,"y":9.09},{"x":13.8,"y":9.21},{"x":19.2,"y":9.24},{"x":22.7,"y":9.29},{"x":30.5,"y":9.23},{"x":33,"y":9.24},{"x":36.9,"y":9.25},{"x":40.3,"y":9.21},{"x":42.9,"y":9.26},{"x":45.4,"y":9.24},{"x":48.3,"y":9.21},{"x":52.4,"y":9.24},{"x":53.8,"y":9.21},{"x":44.9,"y":9.44},{"x":40.9,"y":9.36},{"x":36.9,"y":9.37},{"x":31.9,"y":9.43},
{"x":3.8,"y":8.82},{"x":5.2,"y":8.75},{"x":6.6,"y":8.88},{"x":8.0,"y":8.7},{"x":9.5,"y":8.85},{"x":10.8,"y":8.95},{"x":12.5,"y":8.9},{"x":7.5,"y":8.55},{"x":11.4,"y":8.6},{"x":14.3,"y":8.62},{"x":6.2,"y":8.42},{"x":13.2,"y":8.7},{"x":9.0,"y":8.62},{"x":3.6,"y":8.35},{"x":5.8,"y":8.2}
]
},
"bounds":"flush",
"spacing":92,
"resolve":{"scale":{"color":"independent","strokeDash":"independent"},"legend":{"color":"independent","strokeDash":"independent"}},
"hconcat":[
{
 "width":353,"height":533,
 "title":{"text":"( a )\u00a0\u00a0\u00a0\u00a0\u00a0\u00a0North Carolina","dx":5},
 "layer":[
  {"data":{"name":"nc"},"mark":{"type":"point","shape":"circle","size":24,"strokeWidth":1.2,"color":"black","filled":false,"opacity":1,"clip":true},
   "encoding":{
    "x":{"field":"x","type":"quantitative","scale":{"domain":[-3.55,100.9],"nice":false,"zero":false},"axis":{"values":[0,20,40,60,80,100],"title":"% Non-Hispanic Black"}},
    "y":{"field":"y","type":"quantitative","scale":{"domain":[5.76,12.56],"nice":false,"zero":false},"axis":{"values":[6,7,8,9,10,11,12],"format":"d","title":"Mean census tract PM\u2082.\u2085 (\u03bcg/m\u00b3 )"}}}},
  {"data":{"name":"lines"},"transform":[{"filter":"datum.panel == 'a'"}],"mark":{"type":"line","strokeWidth":2.5,"clip":true},
   "encoding":{
    "x":{"field":"x","type":"quantitative","scale":{"domain":[-3.55,100.9],"nice":false,"zero":false}},
    "y":{"field":"y","type":"quantitative","scale":{"domain":[5.76,12.56],"nice":false,"zero":false}},
    "color":{"field":"q","type":"nominal","scale":{"domain":["90th","75th","50th","25th","10th"],"range":["#FF00FF","#0000FF","#00FF00","#FFC800","#FF0000"]},"legend":null},
    "strokeDash":{"field":"sig","type":"nominal","scale":{"domain":["yes","no"],"range":[[1,0],[10,7]]},"legend":null}}}
 ]
},
{
 "width":353,"height":533,
 "title":{"text":"( b )\u00a0\u00a0\u00a0Mecklenburg County","dx":-9},
 "layer":[
  {"data":{"name":"meck"},"mark":{"type":"point","shape":"circle","size":20,"strokeWidth":1.1,"color":"black","filled":false,"opacity":1,"clip":true},
   "encoding":{
    "x":{"field":"x","type":"quantitative","scale":{"domain":[-3.2,99.7],"nice":false,"zero":false},"axis":{"values":[0,20,40,60,80],"title":"% Non-Hispanic Black"}},
    "y":{"field":"y","type":"quantitative","scale":{"domain":[8.87,12.43],"nice":false,"zero":false},"axis":{"values":[9,9.5,10,10.5,11,11.5,12],"format":".1f","title":"Mean census tract PM\u2082.\u2085 (\u03bcg/m\u00b3 )"}}}},
  {"data":{"name":"lines"},"transform":[{"filter":"datum.panel == 'b'"}],"mark":{"type":"line","strokeWidth":2.5,"clip":true},
   "encoding":{
    "x":{"field":"x","type":"quantitative","scale":{"domain":[-3.2,99.7],"nice":false,"zero":false}},
    "y":{"field":"y","type":"quantitative","scale":{"domain":[8.87,12.43],"nice":false,"zero":false}},
    "color":{"field":"q","type":"nominal","scale":{"domain":["90th","75th","50th","25th","10th"],"range":["#FF00FF","#0000FF","#00FF00","#FFC800","#FF0000"]},
      "legend":{"orient":"none","legendX":196,"legendY":315,"title":"Quantile","titleFontSize":25,"titleFontWeight":"bold","titleColor":"black","titlePadding":6,"titleAnchor":"middle",
        "labelFontSize":24,"labelOffset":16,"labelExpr":"replace(datum.label,'th','\u1d57\u02b0') + '\u00a0\u2800\u2800'","symbolType":"circle","symbolSize":400,"symbolOpacity":0,"symbolStrokeWidth":0,
        "rowPadding":8,"padding":12,"strokeColor":"#999","fillColor":"white",
        "encode":{"labels":{"update":{"fill":{"signal":"datum.value=='90th'?'#FF33FF':datum.value=='75th'?'#1010FF':datum.value=='50th'?'#10DD10':datum.value=='25th'?'#F0C020':'#FF0000'"}}}}}},
    "strokeDash":{"field":"sig","type":"nominal","scale":{"domain":["yes","no"],"range":[[1,0],[10,7]]},"legend":null}}}
 ]
},
{
 "width":353,"height":533,
 "title":{"text":"( c )\u00a0\u00a0\u00a0\u00a0\u00a0Wake County","dx":9},
 "layer":[
  {"data":{"name":"wake"},"mark":{"type":"point","shape":"circle","size":20,"strokeWidth":1.1,"color":"black","filled":false,"opacity":1,"clip":true},
   "encoding":{
    "x":{"field":"x","type":"quantitative","scale":{"domain":[-2.5,87.6],"nice":false,"zero":false},"axis":{"values":[0,20,40,60,80],"title":"% Non-Hispanic Black"}},
    "y":{"field":"y","type":"quantitative","scale":{"domain":[8.87,12.43],"nice":false,"zero":false},"axis":{"values":[9,9.5,10,10.5,11,11.5,12],"format":".1f","title":"Mean census tract PM\u2082.\u2085 (\u03bcg/m\u00b3 )"}}}},
  {"data":{"name":"lines"},"transform":[{"filter":"datum.panel == 'c'"}],"mark":{"type":"line","strokeWidth":2.5,"clip":true},
   "encoding":{
    "x":{"field":"x","type":"quantitative","scale":{"domain":[-2.5,87.6],"nice":false,"zero":false}},
    "y":{"field":"y","type":"quantitative","scale":{"domain":[8.87,12.43],"nice":false,"zero":false}},
    "color":{"field":"q","type":"nominal","scale":{"domain":["90th","75th","50th","25th","10th"],"range":["#FF00FF","#0000FF","#00FF00","#FFC800","#FF0000"]},"legend":null},
    "strokeDash":{"field":"sig","type":"nominal","scale":{"domain":["yes","no"],"range":[[1,0],[10,7]]},"legend":null}}}
 ]
}
]
}
